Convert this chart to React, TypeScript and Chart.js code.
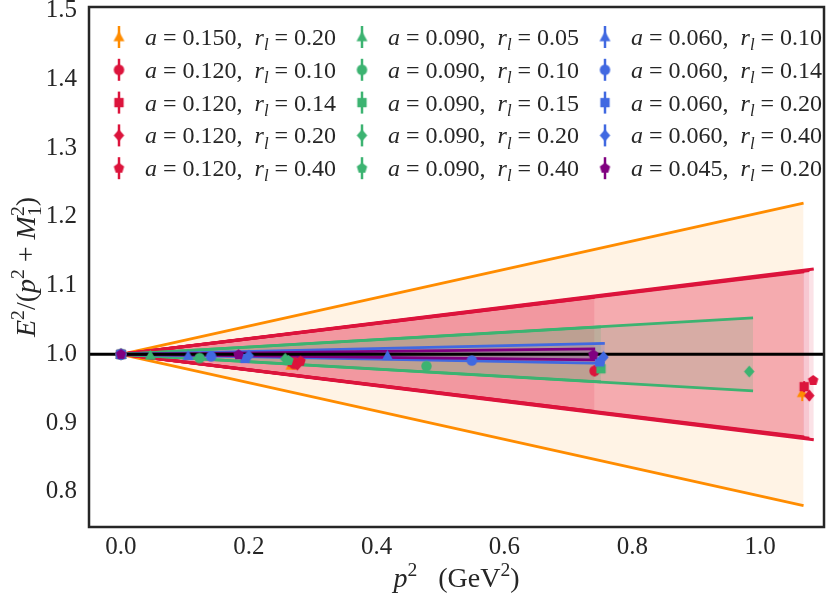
import React, { useEffect, useRef } from 'react';
import { Chart, registerables } from 'chart.js';
Chart.register(...registerables);

// ---------- data ----------
const xTicks = [0.0, 0.2, 0.4, 0.6, 0.8, 1.0];
const yTicks = [0.8, 0.9, 1.0, 1.1, 1.2, 1.3, 1.4, 1.5];
const xRange = [-0.05, 1.1];
const yRange = [0.749, 1.505];
const refLevel = 1.0;

const seriesA = ['0.150', '0.120', '0.120', '0.120', '0.120', '0.090', '0.090', '0.090', '0.090', '0.090', '0.060', '0.060', '0.060', '0.060', '0.045'];
const seriesR = ['0.20', '0.10', '0.14', '0.20', '0.40', '0.05', '0.10', '0.15', '0.20', '0.40', '0.10', '0.14', '0.20', '0.40', '0.20'];
const seriesP2 = [
  [0, 0.266, 1.066],
  [0, 0.271, 0.741],
  [0, 0.268, 1.069],
  [0, 0.276, 1.077],
  [0, 0.281, 1.083],
  [0, 0.046],
  [0, 0.123, 0.478],
  [0, 0.751],
  [0, 0.257, 0.983],
  [0, 0.262],
  [0, 0.105, 0.417],
  [0, 0.141, 0.549],
  [0, 0.194, 0.749],
  [0, 0.200, 0.755],
  [0, 0.184, 0.739],
];
const seriesRatio = [
  [1.0, 0.984, 0.944],
  [1.0, 0.986, 0.976],
  [1.0, 0.989, 0.953],
  [1.0, 0.985, 0.940],
  [1.0, 0.990, 0.962],
  [1.0, 0.9986],
  [1.0, 0.9947, 0.983],
  [1.0, 0.979],
  [1.0, 0.9935, 0.975],
  [1.0, 0.991],
  [1.0, 0.998, 0.998],
  [1.0, 0.997, 0.991],
  [1.0, 0.994, 0.989],
  [1.0, 0.998, 0.996],
  [1.0, 0.9995, 0.9995],
];
const seriesErr = [
  [0.001, 0.004, 0.012],
  [0.001, 0.004, 0.008],
  [0.001, 0.003, 0.008],
  [0.001, 0.003, 0.007],
  [0.001, 0.003, 0.006],
  [0.001, 0.002],
  [0.001, 0.002, 0.004],
  [0.001, 0.004],
  [0.001, 0.002, 0.004],
  [0.001, 0.003],
  [0.001, 0.002, 0.002],
  [0.001, 0.002, 0.003],
  [0.001, 0.002, 0.003],
  [0.001, 0.002, 0.003],
  [0.001, 0.002, 0.003],
];

// fit bands (one per lattice setup): end of range and band edges there
const bandA = ['0.150', '0.120', '0.120', '0.120', '0.120', '0.090', '0.090', '0.060', '0.045'];
const bandP2End = [1.068, 0.741, 1.069, 1.077, 1.084, 0.751, 0.989, 0.757, 0.742];
const bandUpper = [1.220, 1.083, 1.120, 1.122, 1.124, 1.040, 1.053, 1.016, 1.008];
const bandLower = [0.780, 0.917, 0.880, 0.878, 0.876, 0.960, 0.947, 0.987, 0.992];

// ---------- styles ----------
const FAMILY_COLOR: Record<string, string> = {
  '0.150': '#ff8c00',
  '0.120': '#dc143c',
  '0.090': '#3cb371',
  '0.060': '#4169e1',
  '0.045': '#800080',
};
const FAMILY_ALPHA: Record<string, number> = {
  '0.150': 0.1,
  '0.120': 0.12,
  '0.090': 0.16,
  '0.060': 0.15,
  '0.045': 0.15,
};
const MARKERS = ['triangle', 'circle', 'rect', 'diamond', 'pentagon', 'triangle', 'circle', 'rect', 'diamond', 'pentagon', 'triangle', 'circle', 'rect', 'diamond', 'pentagon'];
const FONT = '"Liberation Serif", "DejaVu Serif", serif';
const INK = '#262626';

function rgba(hex: string, a: number) {
  const n = parseInt(hex.slice(1), 16);
  return `rgba(${(n >> 16) & 255},${(n >> 8) & 255},${n & 255},${a})`;
}

function makeMarker(shape: string, color: string, r: number) {
  const c = document.createElement('canvas');
  const s = Math.ceil(2 * r + 4);
  c.width = s;
  c.height = s;
  const g = c.getContext('2d')!;
  const cx = s / 2, cy = s / 2;
  g.fillStyle = color;
  g.beginPath();
  if (shape === 'circle') {
    g.arc(cx, cy, r * 0.95, 0, Math.PI * 2);
  } else if (shape === 'triangle') {
    g.moveTo(cx, cy - r * 1.05);
    g.lineTo(cx + r, cy + r * 0.75);
    g.lineTo(cx - r, cy + r * 0.75);
  } else if (shape === 'rect') {
    const h = r * 0.85;
    g.rect(cx - h, cy - h, 2 * h, 2 * h);
  } else if (shape === 'diamond') {
    g.moveTo(cx, cy - r * 1.1);
    g.lineTo(cx + r * 0.95, cy);
    g.lineTo(cx, cy + r * 1.1);
    g.lineTo(cx - r * 0.95, cy);
  } else {
    for (let k = 0; k < 5; k++) {
      const ang = -Math.PI / 2 + (k * 2 * Math.PI) / 5;
      const px = cx + r * Math.cos(ang), py = cy + r * Math.sin(ang);
      if (k === 0) g.moveTo(px, py); else g.lineTo(px, py);
    }
  }
  g.closePath();
  g.fill();
  return c;
}

type Piece = { t?: string; it?: boolean; sup?: boolean; sub?: boolean; stack?: [string, string] };

function fontOf(size: number, it?: boolean) {
  return `${it ? 'italic ' : ''}${size}px ${FONT}`;
}

function richWidth(ctx: CanvasRenderingContext2D, pieces: Piece[], size: number) {
  let w = 0;
  for (const p of pieces) {
    if (p.stack) {
      ctx.font = fontOf(size * 0.7);
      w += Math.max(ctx.measureText(p.stack[0]).width, ctx.measureText(p.stack[1]).width);
    } else {
      ctx.font = fontOf(p.sup || p.sub ? size * 0.7 : size, p.it);
      w += ctx.measureText(p.t || '').width;
    }
  }
  return w;
}

function drawRich(ctx: CanvasRenderingContext2D, pieces: Piece[], x: number, baseline: number, size: number) {
  ctx.textBaseline = 'alphabetic';
  ctx.textAlign = 'left';
  let cx = x;
  for (const p of pieces) {
    if (p.stack) {
      ctx.font = fontOf(size * 0.7);
      ctx.fillText(p.stack[0], cx, baseline - size * 0.4);
      ctx.fillText(p.stack[1], cx, baseline + size * 0.22);
      cx += Math.max(ctx.measureText(p.stack[0]).width, ctx.measureText(p.stack[1]).width);
    } else {
      const small = p.sup || p.sub;
      ctx.font = fontOf(small ? size * 0.7 : size, p.it);
      const dy = p.sup ? -size * 0.4 : p.sub ? size * 0.22 : 0;
      ctx.fillText(p.t || '', cx, baseline + dy);
      cx += ctx.measureText(p.t || '').width;
    }
  }
  return cx - x;
}

const overlay = {
  id: 'overlay',
  beforeDatasetDraw(chart: any, args: any) {
    const ds = chart.data.datasets[args.index];
    if (!ds.errs) return;
    const { ctx, chartArea } = chart;
    const xs = chart.scales.x, ys = chart.scales.y;
    ctx.save();
    ctx.beginPath();
    ctx.rect(chartArea.left, chartArea.top, chartArea.right - chartArea.left, chartArea.bottom - chartArea.top);
    ctx.clip();
    ctx.strokeStyle = ds.borderColor;
    ctx.lineWidth = 2;
    ds.data.forEach((pt: any, k: number) => {
      const e = ds.errs[k];
      const px = xs.getPixelForValue(pt.x);
      ctx.beginPath();
      ctx.moveTo(px, ys.getPixelForValue(pt.y - e));
      ctx.lineTo(px, ys.getPixelForValue(pt.y + e));
      ctx.stroke();
    });
    ctx.restore();
  },
  afterDraw(chart: any) {
    const { ctx, chartArea } = chart;
    ctx.save();
    // frame
    ctx.strokeStyle = INK;
    ctx.lineWidth = 2.5;
    ctx.strokeRect(chartArea.left, chartArea.top, chartArea.right - chartArea.left, chartArea.bottom - chartArea.top);

    // legend (3 columns, filled column by column)
    const colX = [119, 362, 605];
    const rowY0 = 37, rowStep = 32.8, fs = 24;
    ctx.fillStyle = INK;
    seriesA.forEach((a, i) => {
      const col = Math.floor(i / 5), row = i % 5;
      const mx = colX[col], my = rowY0 + row * rowStep;
      const color = FAMILY_COLOR[a];
      ctx.strokeStyle = color;
      ctx.lineWidth = 2.5;
      ctx.beginPath();
      ctx.moveTo(mx, my - 11);
      ctx.lineTo(mx, my + 11);
      ctx.stroke();
      const mk = chart.data.datasets.find((d: any) => d.seriesIndex === i).pointStyle;
      ctx.drawImage(mk, mx - mk.width / 2, my - mk.height / 2);
      ctx.fillStyle = INK;
      const pieces: Piece[] = [
        { t: 'a', it: true }, { t: ' = ' + a + ',  ' },
        { t: 'r', it: true }, { t: 'l', it: true, sub: true }, { t: ' = ' + seriesR[i] },
      ];
      drawRich(ctx, pieces, mx + 26, my + 8, fs);
    });

    // x title
    const ts = 28;
    const xt: Piece[] = [{ t: 'p', it: true }, { t: '2', sup: true }, { t: '   (GeV' }, { t: '2', sup: true }, { t: ')' }];
    const cxm = (chartArea.left + chartArea.right) / 2;
    ctx.fillStyle = INK;
    drawRich(ctx, xt, cxm - richWidth(ctx, xt, ts) / 2, 587, ts);

    // y title
    const yt: Piece[] = [
      { t: 'E', it: true }, { t: '2', sup: true }, { t: '/(' }, { t: 'p', it: true }, { t: '2', sup: true },
      { t: ' + ' }, { t: 'M', it: true }, { stack: ['2', '1'] }, { t: ')' },
    ];
    const cym = (chartArea.top + chartArea.bottom) / 2;
    ctx.translate(35, cym);
    ctx.rotate(-Math.PI / 2);
    drawRich(ctx, yt, -richWidth(ctx, yt, ts) / 2, 0, ts);
    ctx.restore();
  },
};

export default function App() {
  const ref = useRef<HTMLCanvasElement>(null);
  useEffect(() => {
    document.body.style.margin = '0';
    const ctx = ref.current!.getContext('2d')!;
    const datasets: any[] = [];

    bandA.forEach((a, i) => {
      const color = FAMILY_COLOR[a];
      const w = a === '0.120' ? 3 : 2.8;
      datasets.push({
        type: 'line',
        data: [{ x: 0, y: refLevel }, { x: bandP2End[i], y: bandUpper[i] }],
        borderColor: color, borderWidth: w, pointRadius: 0,
        fill: '+1', backgroundColor: rgba(color, FAMILY_ALPHA[a]),
      });
      datasets.push({
        type: 'line',
        data: [{ x: 0, y: refLevel }, { x: bandP2End[i], y: bandLower[i] }],
        borderColor: color, borderWidth: w, pointRadius: 0, fill: false,
      });
    });

    datasets.push({
      type: 'line',
      data: [{ x: xRange[0], y: refLevel }, { x: xRange[1], y: refLevel }],
      borderColor: '#000000', borderWidth: 3, pointRadius: 0, fill: false,
    });

    seriesA.forEach((a, i) => {
      const color = FAMILY_COLOR[a];
      const mk = makeMarker(MARKERS[i], color, 5.5);
      datasets.push({
        type: 'scatter',
        seriesIndex: i,
        label: `a=${a}, r_l=${seriesR[i]}`,
        data: seriesP2[i].map((x, k) => ({ x, y: seriesRatio[i][k] })),
        errs: seriesErr[i],
        borderColor: color, backgroundColor: color,
        pointStyle: mk, pointRadius: 5, showLine: false,
      });
    });

    const n = datasets.length;
    datasets.forEach((d, i) => { d.order = n - i; });

    const tickFont = { family: FONT, size: 25 };
    const chart = new Chart(ctx, {
      type: 'scatter',
      data: { datasets },
      options: {
        responsive: false,
        animation: false,
        events: [],
        layout: { padding: { top: 7, right: 3, left: 0, bottom: 0 } },
        plugins: { legend: { display: false }, tooltip: { enabled: false } },
        scales: {
          x: {
            type: 'linear', min: xRange[0], max: xRange[1],
            grid: { display: false, drawTicks: false },
            border: { display: false },
            ticks: { font: tickFont, color: INK, padding: 5, maxRotation: 0, autoSkip: false,
              callback: (v: any) => Number(v).toFixed(1) },
            afterBuildTicks: (s: any) => { s.ticks = xTicks.map((v) => ({ value: v })); },
            afterFit: (s: any) => { s.height = 71; s.paddingLeft = 0; s.paddingRight = 0; },
          },
          y: {
            type: 'linear', min: yRange[0], max: yRange[1],
            grid: { display: false, drawTicks: false },
            border: { display: false },
            ticks: { font: tickFont, color: INK, padding: 12, autoSkip: false,
              callback: (v: any) => Number(v).toFixed(1) },
            afterBuildTicks: (s: any) => { s.ticks = yTicks.map((v) => ({ value: v })); },
            afterFit: (s: any) => { s.width = 89; s.paddingTop = 0; s.paddingBottom = 0; },
          },
        },
      } as any,
      plugins: [overlay as any],
    });
    return () => chart.destroy();
  }, []);
  return (
    <div style={{ width: 830, height: 598 }}>
      <canvas ref={ref} width={830} height={598} style={{ display: 'block' }} />
    </div>
  );
}
